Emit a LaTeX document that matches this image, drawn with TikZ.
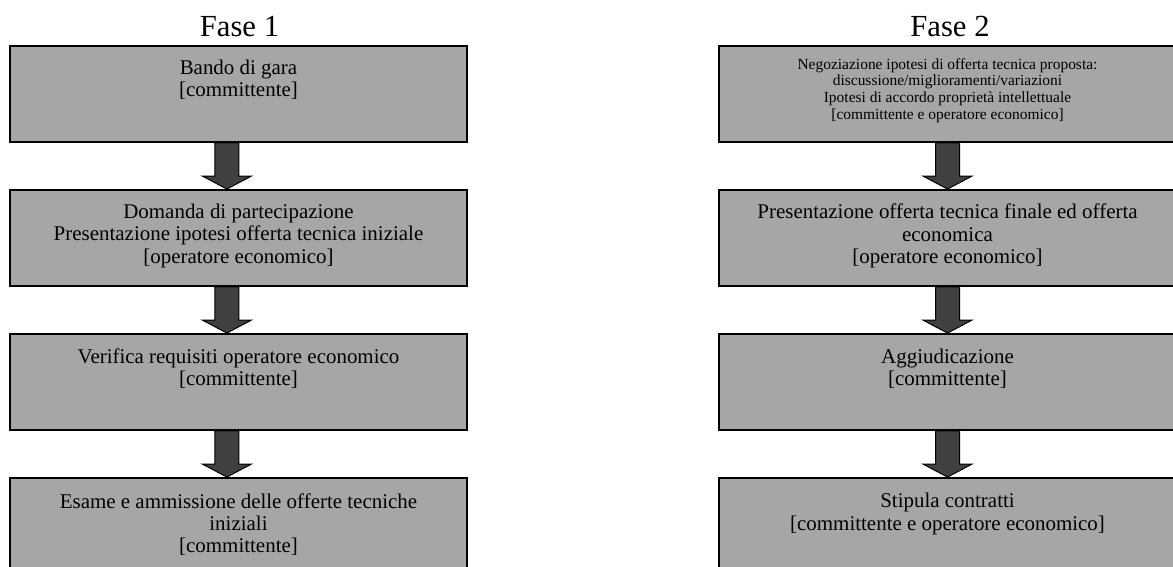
\documentclass[tikz,border=0pt]{standalone}
\usepackage{fontspec}
\setmainfont{Liberation Serif}
\usetikzlibrary{positioning,calc}

\definecolor{boxgray}{HTML}{A6A6A6}
\definecolor{arrowgray}{HTML}{404040}

% Freccia a blocco tra due riquadri: #1 da, #2 a, #3 spostamento orizzontale
\newcommand{\faseArrow}[3]{%
  \filldraw[fase arrow]
    ($(#1.south)+(#3-0.3,0)$) -- ($(#1.south)+(#3+0.3,0)$)
    -- ($(#2.north)+(#3+0.3,0.325)$) -- ($(#2.north)+(#3+0.6125,0.325)$)
    -- ($(#2.north)+(#3,0)$)
    -- ($(#2.north)+(#3-0.6125,0.325)$) -- ($(#2.north)+(#3-0.3,0.325)$) -- cycle;}

\begin{document}
\begin{tikzpicture}[
    fase box/.style={draw=black, line width=1.3pt, fill=boxgray, minimum width=11.425cm, minimum height=2.4cm, inner sep=0pt},
    fase title/.style={font=\fontsize{21.8}{24}\selectfont, inner sep=0pt, anchor=base},
    box text/.style={font=\fontsize{14.9}{15.8}\selectfont, align=center, inner sep=0pt},
    small text/.style={font=\fontsize{11}{11.9}\selectfont, align=center, inner sep=0pt},
    fase arrow/.style={fill=arrowgray, draw=black, line width=0.7pt}
  ]
        \useasboundingbox (0,0) rectangle (29.325,14.175);

        % === Fase 1 ===
        \node[fase title] (f1) at (5.9875,13.25) {Fase 1};

        % Riquadri
        \node[fase box] (a1) at (5.9625,11.825) {};
        \node[fase box] (a2) at (5.9625,8.225) {};
        \node[fase box] (a3) at (5.9625,4.625) {};
        \node[fase box] (a4) at (5.9625,1.025) {};

        % Testi
        \node[box text, below=0.37cm of a1.north] (ta1) {Bando di gara\\{[committente]}};
        \node[box text, below=0.37cm of a2.north] (ta2) {Domanda di partecipazione\\Presentazione ipotesi offerta tecnica iniziale\\{[operatore economico]}};
        \node[box text, below=0.38cm of a3.north] (ta3) {Verifica requisiti operatore economico\\{[committente]}};
        \node[box text, below=0.4cm of a4.north] (ta4) {Esame e ammissione delle offerte tecniche\\iniziali\\{[committente]}};

        % Frecce
        \faseArrow{a1}{a2}{-0.29}
        \faseArrow{a2}{a3}{-0.29}
        \faseArrow{a3}{a4}{-0.29}

        % === Fase 2 ===
        \node[fase title] (f2) at (23.75,13.25) {Fase 2};

        % Riquadri
        \node[fase box] (b1) at (23.6875,11.825) {};
        \node[fase box] (b2) at (23.6875,8.225) {};
        \node[fase box] (b3) at (23.6875,4.625) {};
        \node[fase box] (b4) at (23.6875,1.025) {};

        % Testi
        \node[small text, below=0.32cm of b1.north] (tb1) {Negoziazione ipotesi di offerta tecnica proposta:\\discussione/miglioramenti/variazioni\\Ipotesi di accordo proprietà intellettuale\\{[committente e operatore economico]}};
        \node[box text, below=0.37cm of b2.north] (tb2) {Presentazione offerta tecnica finale ed offerta\\economica\\{[operatore economico]}};
        \node[box text, below=0.38cm of b3.north] (tb3) {Aggiudicazione\\{[committente]}};
        \node[box text, below=0.4cm of b4.north] (tb4) {Stipula contratti\\{[committente e operatore economico]}};

        % Frecce
        \faseArrow{b1}{b2}{0}
        \faseArrow{b2}{b3}{0}
        \faseArrow{b3}{b4}{0}

\end{tikzpicture}
\end{document}
